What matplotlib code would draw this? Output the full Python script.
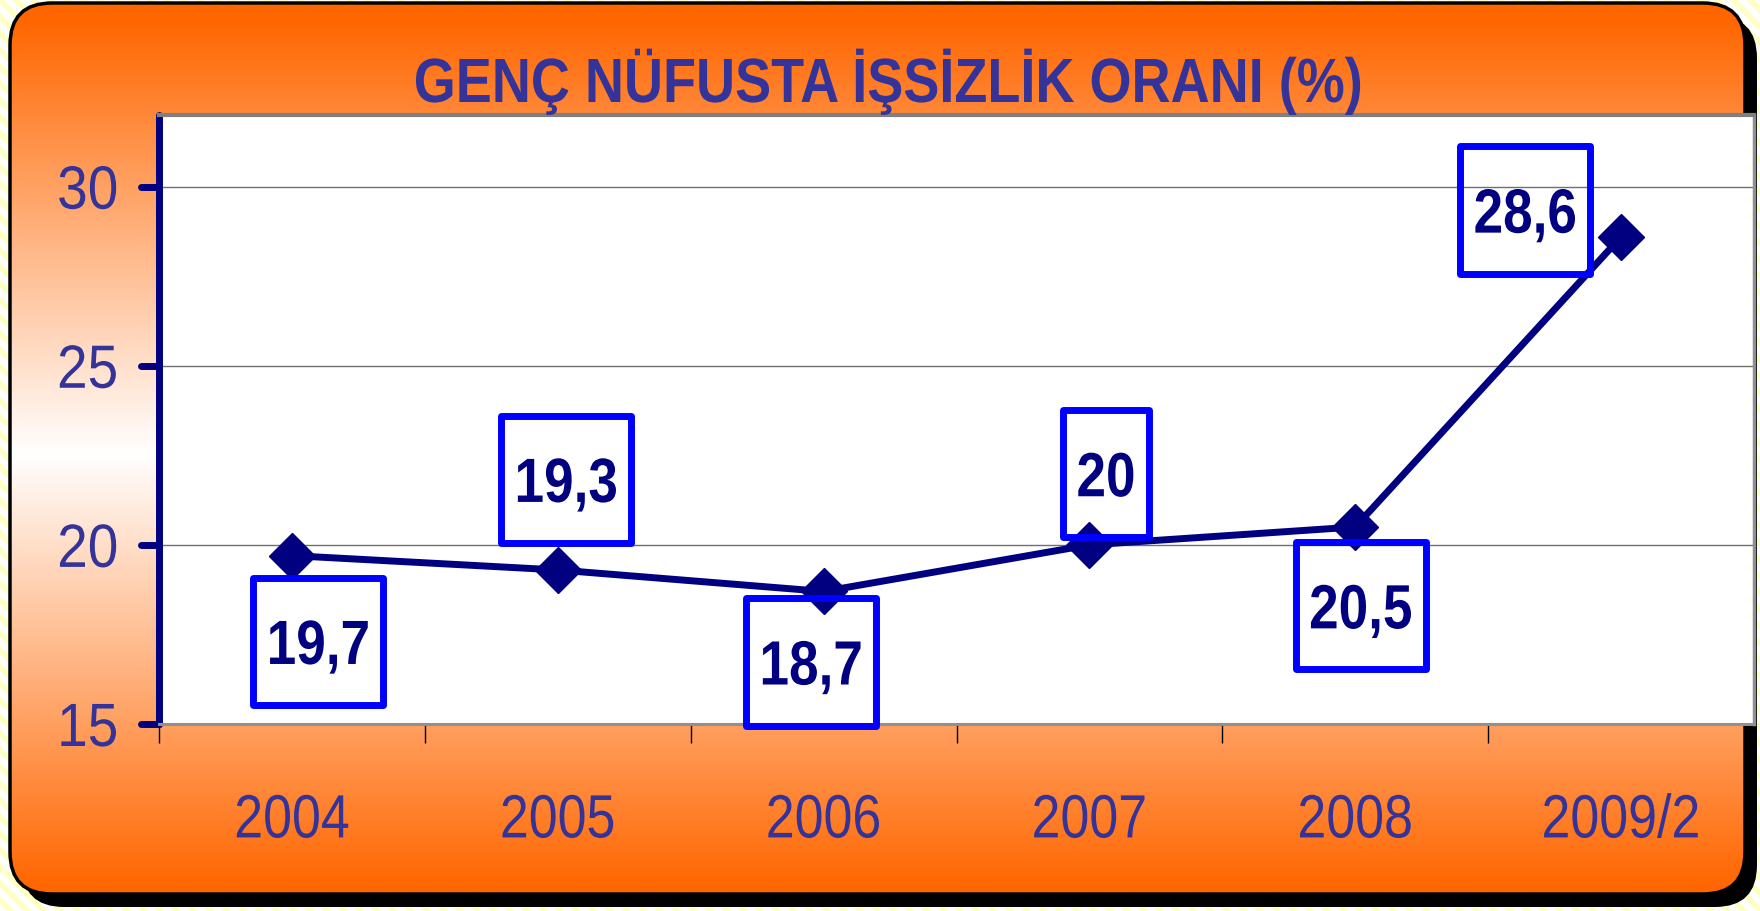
import numpy as np
import matplotlib
matplotlib.use('Agg')
import matplotlib.pyplot as plt
from matplotlib.patches import FancyBboxPatch, Rectangle
from matplotlib.path import Path
from matplotlib.markers import MarkerStyle
from matplotlib.transforms import Affine2D
from matplotlib.patheffects import AbstractPathEffect

# ---------------- data ----------------
categories = ['2004', '2005', '2006', '2007', '2008', '2009/2']
values = [19.7, 19.3, 18.7, 20.0, 20.5, 28.6]
label_texts = ['19,7', '19,3', '18,7', '20', '20,5', '28,6']
yticks = [15, 20, 25, 30]
title = 'GENÇ NÜFUSTA İŞSİZLİK ORANI (%)'

# label box centre offsets from the data point (points)
label_offsets = [(19, -62), (6, 65), (-9, -51), (12, 51), (4, -57), (-69, 19)]

FONT = 'Liberation Sans'
plt.rcParams['font.family'] = [FONT, 'DejaVu Sans']
plt.rcParams['hatch.linewidth'] = 4

NAVY = '#000080'
TXT = '#333399'
W, H = 1760, 912
SQ = 0.85  # horizontal squeeze to mimic a narrow face


class Squeeze(AbstractPathEffect):
    """Compress glyph outlines horizontally (narrow-font look)."""

    def __init__(self, sx, anchor='center'):
        super().__init__()
        self.sx = sx
        self.anchor = anchor

    def draw_path(self, renderer, gc, tpath, affine, rgbFace=None):
        ext = tpath.get_extents()
        if self.anchor == 'right':
            cx = ext.x1
        elif self.anchor == 'left':
            cx = ext.x0
        else:
            cx = (ext.x0 + ext.x1) / 2
        tr = Affine2D().translate(-cx, 0).scale(self.sx, 1).translate(cx, 0) + affine
        renderer.draw_path(gc, tpath, tr, rgbFace)


fig = plt.figure(figsize=(17.6, 9.12), dpi=100)
fig.patch.set_facecolor('white')

# ---------------- background ----------------
bg = fig.add_axes([0, 0, 1, 1])
bg.set_xlim(0, W)
bg.set_ylim(H, 0)
bg.axis('off')
bg.add_patch(Rectangle((0, 0), W, H, facecolor='white', edgecolor='#FFFFC4',
                       hatch='\\\\', lw=0, zorder=0))

rx0, ry0, rw, rh = 10, 4, 1735, 891
shadow = FancyBboxPatch((rx0 + 12, ry0 + 13), rw, rh,
                        boxstyle='round,pad=0,rounding_size=42',
                        facecolor='black', edgecolor='black', lw=0, zorder=1)
bg.add_patch(shadow)
frame = FancyBboxPatch((rx0, ry0), rw, rh,
                       boxstyle='round,pad=0,rounding_size=42',
                       facecolor='none', edgecolor='black', lw=2.5, zorder=3)
clip = FancyBboxPatch((rx0, ry0), rw, rh,
                      boxstyle='round,pad=0,rounding_size=42',
                      facecolor='none', edgecolor='none', lw=0)
bg.add_patch(clip)
t = np.linspace(0, 1, 400)
w = np.clip(1 - 2.05 * np.abs(t - 0.505), 0, 1)
orange = np.array([255, 102, 0]) / 255.0
white = np.array([1.0, 1.0, 1.0])
grad = orange[None, :] * (1 - w[:, None]) + white[None, :] * w[:, None]
img = bg.imshow(grad[:, None, :], extent=(rx0, rx0 + rw, ry0 + rh, ry0),
                aspect='auto', zorder=2, interpolation='bilinear')
img.set_clip_path(clip)
bg.add_patch(frame)
bg.set_xlim(0, W)
bg.set_ylim(H, 0)

# ---------------- title ----------------
fig.text(888 / W, 1 - 103 / H, title, ha='center', va='baseline',
         fontsize=45, fontweight='bold', color=TXT,
         path_effects=[Squeeze(0.865)])

# ---------------- plot ----------------
L, R, T, B = 159, 1754, 116, 725
ax = fig.add_axes([L / W, 1 - B / H, (R - L) / W, (B - T) / H])
ax.set_facecolor('white')
x = np.arange(len(categories))
ax.plot(x, values, color=NAVY, lw=5, marker='D', ms=23,
        markerfacecolor=NAVY, markeredgecolor=NAVY, zorder=3, clip_on=False)
ax.set_xlim(-0.5, len(categories) - 0.5)
ax.set_ylim(15, 32)

ax.set_yticks(yticks)
ax.yaxis.grid(True, color='#707070', lw=1.0)
ax.set_axisbelow(True)

ax.spines['left'].set_color(NAVY)
ax.spines['left'].set_linewidth(5)
ax.spines['left'].set_capstyle('round')
ax.spines['top'].set_color('#808080')
ax.spines['top'].set_linewidth(3)
ax.spines['bottom'].set_color('#909090')
ax.spines['bottom'].set_linewidth(2.2)
ax.spines['right'].set_color('#909090')
ax.spines['right'].set_linewidth(2.5)

ax.tick_params(axis='y', direction='out', length=13, width=5, color=NAVY,
               labelsize=44, labelcolor=TXT, pad=16)
ax.set_xticks(x)
ax.set_xticklabels(categories)
ax.set_xticks(np.arange(-0.5, len(categories) - 1, 1.0), minor=True)
ax.tick_params(axis='x', which='major', length=0, labelsize=44,
               labelcolor=TXT, pad=50)
ax.tick_params(axis='x', which='minor', direction='out', length=14,
               width=1.0, color='black')
for lbl in ax.get_xticklabels():
    lbl.set_path_effects([Squeeze(SQ)])
for lbl in ax.get_yticklabels():
    lbl.set_path_effects([Squeeze(0.9, 'right')])
for tl in ax.yaxis.get_ticklines():
    try:
        tl.set_marker(MarkerStyle(tl.get_marker(), capstyle='round'))
    except Exception:
        pass


def label_box(x0, y0, width, height, mutation_size):
    cx = x0 + width / 2
    cy = y0 + 0.57 * mutation_size
    hw = SQ * width / 2 + 0.21 * mutation_size
    hh = 1.02 * mutation_size
    return Path([(cx - hw, cy - hh), (cx + hw, cy - hh), (cx + hw, cy + hh),
                 (cx - hw, cy + hh), (cx - hw, cy - hh)], closed=True)


for xi, v, lab, (dx, dy) in zip(x, values, label_texts, label_offsets):
    ax.annotate(lab, xy=(xi, v), xytext=(dx, dy - 16), textcoords='offset points',
                ha='center', va='baseline', fontsize=45, fontweight='bold',
                color=NAVY, zorder=5, annotation_clip=False,
                path_effects=[Squeeze(SQ)],
                bbox=dict(boxstyle=label_box, facecolor='none', edgecolor='#0000FF',
                          lw=5, joinstyle='round'))

fig.savefig('out.png', dpi=100)
